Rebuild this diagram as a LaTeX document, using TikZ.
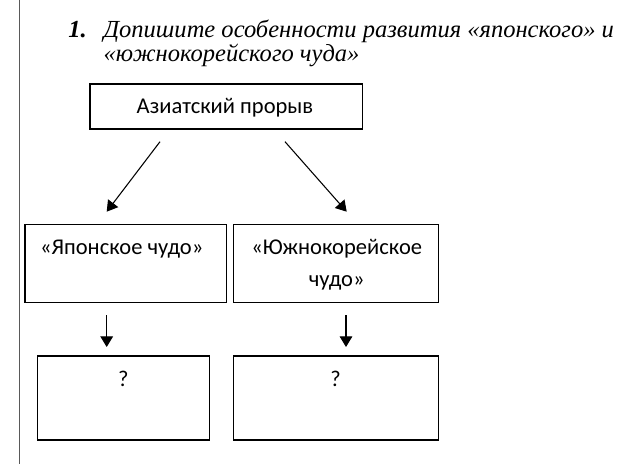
\documentclass[tikz,border=0pt]{standalone}
\usepackage{fontspec}
\setmainfont{Liberation Serif}
\newfontfamily\boxfont{Carlito}
\usetikzlibrary{arrows.meta}
\begin{document}
\begin{tikzpicture}[x=0.75pt,y=-0.75pt,
  box/.style={draw=black, line width=1.1pt, rectangle, inner sep=0pt, outer sep=0pt},
  lbl/.style={font=\boxfont\fontsize{16.9pt}{20pt}\selectfont, anchor=base, inner sep=0pt},
  ttl/.style={anchor=base west, inner sep=0pt, font=\fontsize{18.4pt}{22pt}\selectfont\itshape},
  arr/.style={line width=0.8pt, -{Triangle[length=8pt,width=9.5pt]}}]
\useasboundingbox (0,0) rectangle (640,464);
\fill[white] (0,0) rectangle (640,464);
% left margin line
\coordinate (mt) at (19.3,0);
\coordinate (mb) at (19.3,464);
\draw[line width=1.1pt, black!65] (mt) -- (mb);
% title
\node[ttl, font=\fontsize{18.4pt}{22pt}\selectfont\bfseries\itshape] (num) at (68,37.3) {1.};
\node[ttl] (t1) at (103.3,37.3) {Допишите особенности развития «японского» и};
\node[ttl] (t2) at (103.3,61.7) {«южнокорейского чуда»};
% boxes
\node[box, minimum width=204.5pt, minimum height=33.75pt] (top) at (226.3,106.5) {};
\node[box, minimum width=151.3pt, minimum height=58.5pt] (jp) at (125.8,263.7) {};
\node[box, minimum width=153.75pt, minimum height=58.5pt] (kr) at (335.8,263.7) {};
\node[box, minimum width=129pt, minimum height=63pt] (jpq) at (123.3,398) {};
\node[box, minimum width=153.75pt, minimum height=63pt] (krq) at (335.8,398) {};
% labels
\node[lbl] (topl) at (225,113.3) {Азиатский прорыв};
\node[lbl] (jpl) at (121.7,254.3) {«Японское чудо»};
\node[lbl] (krl1) at (336.7,254.3) {«Южнокорейское};
\node[lbl] (krl2) at (336.7,286) {чудо»};
\node[lbl] (jpql) at (123.3,386.7) {?};
\node[lbl] (krql) at (335.7,386.7) {?};
% arrows
\coordinate (a1s) at (160,141.7);
\coordinate (a1e) at (106.7,211.7);
\coordinate (a2s) at (285,141.7);
\coordinate (a2e) at (346.7,211.7);
\coordinate (a3s) at (106.7,315);
\coordinate (a3e) at (106.7,347);
\coordinate (a4s) at (346,315);
\coordinate (a4e) at (346,347);
\draw[arr] (a1s) -- (a1e);
\draw[arr] (a2s) -- (a2e);
\draw[arr] (a3s) -- (a3e);
\draw[arr] (a4s) -- (a4e);
\end{tikzpicture}
\end{document}
